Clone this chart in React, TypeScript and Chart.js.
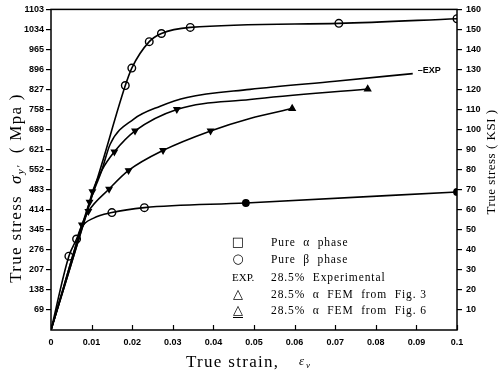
import React, { useEffect, useRef } from "react";
import { Chart, registerables } from "chart.js";

Chart.register(...registerables);

// ---- axis ticks ----
const xTickValues = [0, 0.01, 0.02, 0.03, 0.04, 0.05, 0.06, 0.07, 0.08, 0.09, 0.1];
const xTickLabels = ["0", "0.01", "0.02", "0.03", "0.04", "0.05", "0.06", "0.07", "0.08", "0.09", "0.1"];
const leftTickValues = [69, 138, 207, 276, 345, 414, 483, 552, 621, 689, 758, 827, 896, 965, 1034, 1103];
const rightTickValues = [10, 20, 30, 40, 50, 60, 70, 80, 90, 100, 110, 120, 130, 140, 150, 160];

// ---- Pure beta phase (upper curve) ----
const betaStrain = [0, 0.0125, 0.0183, 0.0199, 0.0242, 0.0272, 0.0343, 0.0709, 0.1];
const betaStress = [0, 570, 841, 901, 992, 1020, 1041, 1055, 1071];
const betaMarkStrain = [0.0183, 0.0199, 0.0242, 0.0272, 0.0343, 0.0709, 0.1];
const betaMarkStress = [841, 901, 992, 1020, 1041, 1055, 1071];

// ---- Pure alpha phase (lower curve) ----
const alphaStrain = [0, 0.0044, 0.0063, 0.0074, 0.0105, 0.015, 0.023, 0.048, 0.1];
const alphaStress = [0, 254, 313, 352, 385, 404, 421, 437, 475];
const alphaOpenStrain = [0.0044, 0.0063, 0.015, 0.023];
const alphaOpenStress = [254, 313, 404, 421];
const alphaFilledStrain = [0.048, 0.1];
const alphaFilledStress = [437, 475];

// ---- 28.5% experimental ----
const expStrain = [0, 0.0095, 0.0125, 0.0146, 0.0203, 0.0269, 0.0335, 0.049, 0.07, 0.0891];
const expStress = [0, 440, 549, 640, 725, 770, 800, 828, 856, 882];

// ---- 28.5% alpha FEM from Fig. 3 ----
const fem3Strain = [0, 0.0095, 0.0102, 0.0125, 0.0156, 0.0207, 0.031, 0.049, 0.078];
const fem3Stress = [0, 440, 476, 549, 613, 685, 759, 793, 829];
const fem3MarkStrain = [0.0095, 0.0102, 0.0156, 0.0207, 0.031];
const fem3MarkStress = [440, 476, 613, 685, 759];
const fem3EndStrain = [0.078];
const fem3EndStress = [829];

// ---- 28.5% alpha FEM from Fig. 6 ----
const fem6Strain = [0, 0.0063, 0.0076, 0.0092, 0.0143, 0.0191, 0.0276, 0.0393, 0.049, 0.0594];
const fem6Stress = [0, 300, 362, 408, 485, 549, 618, 685, 728, 762];
const fem6MarkStrain = [0.0076, 0.0092, 0.0143, 0.0191, 0.0276, 0.0393];
const fem6MarkStress = [362, 408, 485, 549, 618, 685];
const fem6EndStrain = [0.0594];
const fem6EndStress = [762];

// ---- legend ----
const legendSymbols = ["□", "○", "EXP.", "△", "△"];
const legendLabels = [
  "Pure  α  phase",
  "Pure  β  phase",
  "28.5%  Experimental",
  "28.5%  α  FEM  from  Fig. 3",
  "28.5%  α  FEM  from  Fig. 6",
];
const expTag = "–EXP";

const pts = (xs: number[], ys: number[]) => xs.map((x, i) => ({ x, y: ys[i] }));

const tickFont = { family: "'Liberation Sans', Arial, sans-serif", size: 9, weight: "bold" as const };

const lineDs = (xs: number[], ys: number[]) => ({
  data: pts(xs, ys),
  showLine: true,
  borderColor: "#000",
  borderWidth: 1.6,
  pointRadius: 0,
  cubicInterpolationMode: "monotone" as const,
  fill: false,
  xAxisID: "x",
  yAxisID: "y",
});

const markDs = (xs: number[], ys: number[], style: string, fill: string, radius: number, rotation = 0) => ({
  data: pts(xs, ys),
  showLine: false,
  pointStyle: style,
  pointRadius: radius,
  pointRotation: rotation,
  pointBackgroundColor: fill,
  pointBorderColor: "#000",
  pointBorderWidth: 1.4,
  xAxisID: "x",
  yAxisID: "y",
});

const decorPlugin = {
  id: "decor",
  afterDraw(chart: any) {
    const ctx = chart.ctx as CanvasRenderingContext2D;
    const a = chart.chartArea;
    const xs = chart.scales.x;
    const ys = chart.scales.y;
    ctx.save();
    // frame
    ctx.strokeStyle = "#000";
    ctx.lineWidth = 1.5;
    ctx.strokeRect(a.left, a.top, a.right - a.left, a.bottom - a.top);
    // inward x ticks
    ctx.lineWidth = 1.2;
    xTickValues.forEach((v) => {
      const px = Math.round(xs.getPixelForValue(v)) + 0.5;
      ctx.beginPath();
      ctx.moveTo(px, a.bottom);
      ctx.lineTo(px, a.bottom - 5);
      ctx.stroke();
    });

    ctx.fillStyle = "#000";
    const serif = "'Liberation Serif', 'Times New Roman', serif";
    // left title
    ctx.save();
    ctx.translate(17, 188);
    ctx.rotate(-Math.PI / 2);
    const p1 = "True stress  ";
    const p2 = "σ";
    const p3 = "y'";
    const p4 = "  ( Mpa )";
    (ctx as any).letterSpacing = "1.3px";
    ctx.font = `17px ${serif}`;
    const w1 = ctx.measureText(p1).width;
    ctx.font = `italic 17px ${serif}`;
    const w2 = ctx.measureText(p2).width;
    ctx.font = `italic 11px ${serif}`;
    const w3 = ctx.measureText(p3).width;
    ctx.font = `17px ${serif}`;
    const w4 = ctx.measureText(p4).width;
    let cx = -(w1 + w2 + w3 + w4) / 2;
    ctx.textBaseline = "middle";
    ctx.textAlign = "left";
    ctx.font = `17px ${serif}`;
    ctx.fillText(p1, cx, 0);
    cx += w1;
    ctx.font = `italic 17px ${serif}`;
    ctx.fillText(p2, cx, 0);
    cx += w2;
    ctx.font = `italic 11px ${serif}`;
    ctx.fillText(p3, cx, 4);
    cx += w3;
    ctx.font = `17px ${serif}`;
    ctx.fillText(p4, cx, 0);
    ctx.restore();

    // right title (reads bottom to top)
    ctx.save();
    ctx.translate(492, 162);
    ctx.rotate(-Math.PI / 2);
    ctx.font = `13px ${serif}`;
    (ctx as any).letterSpacing = "0.5px";
    ctx.textAlign = "center";
    ctx.textBaseline = "middle";
    ctx.fillText("True stress ( KSI )", 0, 0);
    ctx.restore();

    // bottom title
    ctx.save();
    ctx.font = `17px ${serif}`;
    (ctx as any).letterSpacing = "1.3px";
    ctx.textAlign = "left";
    ctx.textBaseline = "middle";
    ctx.fillText("True strain,", 186, 363);
    (ctx as any).letterSpacing = "0px";
    ctx.font = `italic 13px ${serif}`;
    ctx.fillText("ε", 299, 362);
    ctx.font = `italic 9px ${serif}`;
    ctx.fillText("v", 306, 366);
    ctx.restore();

    // EXP tag
    ctx.save();
    ctx.font = `bold 9px 'Liberation Sans', Arial, sans-serif`;
    ctx.textAlign = "left";
    ctx.textBaseline = "middle";
    const tx = xs.getPixelForValue(expStrain[expStrain.length - 1]) + 5;
    const ty = ys.getPixelForValue(expStress[expStress.length - 1]) - 3;
    ctx.fillText(expTag, tx, ty);
    ctx.restore();

    // legend
    ctx.save();
    const rowsY = [243, 260, 278, 295, 311];
    ctx.textBaseline = "middle";
    legendSymbols.forEach((s, i) => {
      const y = rowsY[i];
      if (s === "EXP.") {
        ctx.font = `11px ${serif}`;
        (ctx as any).letterSpacing = "0px";
        ctx.textAlign = "left";
        ctx.fillText(s, 232, y);
      } else {
        ctx.font = `13px 'DejaVu Sans', sans-serif`;
        (ctx as any).letterSpacing = "0px";
        ctx.textAlign = "center";
        ctx.fillText(s, 238, y);
        if (i === 4) {
          ctx.lineWidth = 1;
          ctx.beginPath();
          ctx.moveTo(233, y + 6.5);
          ctx.lineTo(243, y + 6.5);
          ctx.stroke();
        }
      }
      ctx.font = `11.5px ${serif}`;
      (ctx as any).letterSpacing = "0.9px";
      ctx.textAlign = "left";
      ctx.fillText(legendLabels[i], 271, y);
    });
    ctx.restore();

    ctx.restore();
  },
};

export default function App() {
  const ref = useRef<HTMLCanvasElement | null>(null);
  useEffect(() => {
    if (!ref.current) return;
    document.body.style.margin = "0";
    const chart = new Chart(ref.current, {
      type: "scatter",
      data: {
        datasets: [
          lineDs(betaStrain, betaStress),
          lineDs(alphaStrain, alphaStress),
          lineDs(expStrain, expStress),
          lineDs(fem3Strain, fem3Stress),
          lineDs(fem6Strain, fem6Stress),
          markDs(betaMarkStrain, betaMarkStress, "circle", "#fff", 3.8),
          markDs(alphaOpenStrain, alphaOpenStress, "circle", "#fff", 3.8),
          markDs(alphaFilledStrain, alphaFilledStress, "circle", "#000", 3.2),
          markDs(fem3MarkStrain, fem3MarkStress, "triangle", "#000", 3.2, 180),
          markDs(fem3EndStrain, fem3EndStress, "triangle", "#000", 3.4),
          markDs(fem6MarkStrain, fem6MarkStress, "triangle", "#000", 3.2, 180),
          markDs(fem6EndStrain, fem6EndStress, "triangle", "#000", 3.4),
        ] as any,
      },
      options: {
        animation: false,
        responsive: false,
        devicePixelRatio: 1,
        layout: { padding: { top: 9, left: 0, right: 0, bottom: 0 } },
        plugins: { legend: { display: false }, tooltip: { enabled: false }, title: { display: false } },
        scales: {
          x: {
            type: "linear",
            position: "bottom",
            min: 0,
            max: 0.1,
            afterBuildTicks: (s: any) => {
              s.ticks = xTickValues.map((v) => ({ value: v }));
            },
            afterFit: (s: any) => {
              s.height = 45;
            },
            ticks: {
              autoSkip: false,
              maxRotation: 0,
              padding: 7,
              color: "#000",
              font: tickFont,
              callback: (v: any) => xTickLabels[xTickValues.indexOf(v)] ?? "",
            },
            grid: { display: false, drawTicks: false, tickLength: 0 },
            border: { display: false },
          },
          y: {
            type: "linear",
            position: "left",
            min: 0,
            max: 1103,
            afterBuildTicks: (s: any) => {
              s.ticks = leftTickValues.map((v) => ({ value: v }));
            },
            afterFit: (s: any) => {
              s.width = 51;
            },
            ticks: {
              autoSkip: false,
              padding: 2,
              color: "#000",
              font: tickFont,
              callback: (v: any) => String(v),
            },
            grid: { drawOnChartArea: false, drawTicks: true, tickLength: 5, color: "#000", lineWidth: 1.2 },
            border: { display: false },
          },
          y2: {
            type: "linear",
            position: "right",
            min: 0,
            max: 160,
            afterBuildTicks: (s: any) => {
              s.ticks = rightTickValues.map((v) => ({ value: v }));
            },
            afterFit: (s: any) => {
              s.width = 43;
            },
            ticks: {
              autoSkip: false,
              padding: 4,
              color: "#000",
              font: tickFont,
              callback: (v: any) => String(v),
            },
            grid: { drawOnChartArea: false, drawTicks: true, tickLength: 5, color: "#000", lineWidth: 1.2 },
            border: { display: false },
          },
        },
      },
      plugins: [decorPlugin],
    } as any);
    return () => chart.destroy();
  }, []);
  return (
    <div style={{ position: "absolute", left: 0, top: 0, width: 500, height: 375, background: "#fff" }}>
      <canvas ref={ref} width={500} height={375} />
    </div>
  );
}
